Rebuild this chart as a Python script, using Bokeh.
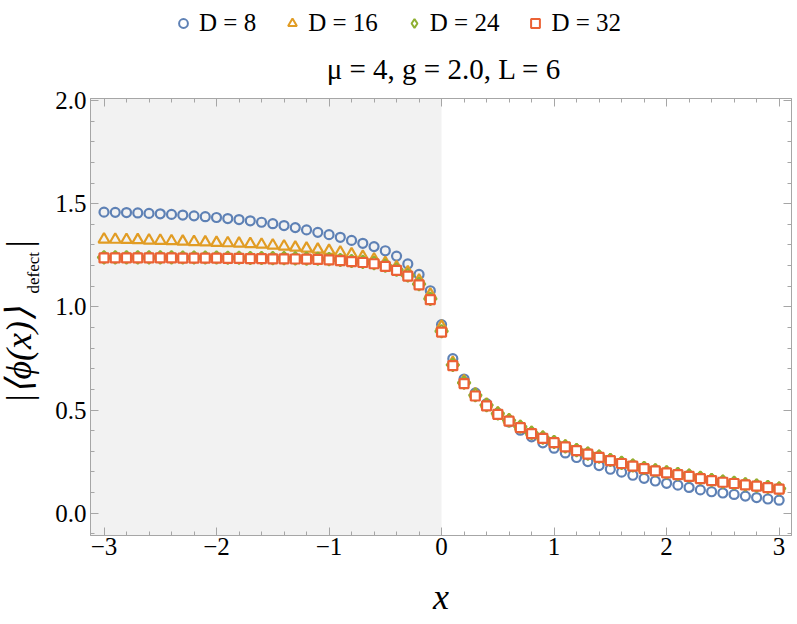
import numpy as np
from bokeh.plotting import figure
from bokeh.layouts import column
from bokeh.models import (Range1d, LinearAxis, Legend, LegendItem, Title, Label,
                          BoxAnnotation, SingleIntervalTicker, ColumnDataSource,
                          CustomLabelingPolicy)
from bokeh.embed import file_html
from bokeh.resources import INLINE

# ---------------- data ----------------
x_vals = [-3.0, -2.9, -2.8, -2.7, -2.6, -2.5, -2.4, -2.3, -2.2, -2.1,
          -2.0, -1.9, -1.8, -1.7, -1.6, -1.5, -1.4, -1.3, -1.2, -1.1,
          -1.0, -0.9, -0.8, -0.7, -0.6, -0.5, -0.4, -0.3, -0.2, -0.1,
          0.0, 0.1, 0.2, 0.3, 0.4, 0.5, 0.6, 0.7, 0.8, 0.9,
          1.0, 1.1, 1.2, 1.3, 1.4, 1.5, 1.6, 1.7, 1.8, 1.9,
          2.0, 2.1, 2.2, 2.3, 2.4, 2.5, 2.6, 2.7, 2.8, 2.9, 3.0]

d8 = [1.459, 1.458, 1.457, 1.455, 1.453, 1.451, 1.448, 1.445, 1.441, 1.437,
      1.433, 1.428, 1.423, 1.417, 1.410, 1.403, 1.394, 1.384, 1.373, 1.361,
      1.350, 1.337, 1.322, 1.308, 1.292, 1.272, 1.246, 1.208, 1.157, 1.078,
      0.914,
      0.749, 0.650, 0.583, 0.531, 0.483, 0.442, 0.402, 0.370, 0.341, 0.315,
      0.292, 0.270, 0.250, 0.231, 0.213, 0.199, 0.184, 0.169, 0.156, 0.145,
      0.136, 0.125, 0.113, 0.104, 0.098, 0.091, 0.083, 0.076, 0.069, 0.063]

d16 = [1.327, 1.326, 1.325, 1.324, 1.322, 1.321, 1.319, 1.317, 1.315, 1.313,
       1.311, 1.309, 1.307, 1.305, 1.302, 1.298, 1.293, 1.288, 1.283, 1.278,
       1.272, 1.264, 1.255, 1.243, 1.230, 1.213, 1.193, 1.168, 1.128, 1.060,
       0.905,
       0.730, 0.640, 0.577, 0.527, 0.485, 0.452, 0.420, 0.391, 0.367, 0.346,
       0.324, 0.306, 0.289, 0.274, 0.258, 0.244, 0.231, 0.219, 0.208, 0.198,
       0.190, 0.182, 0.171, 0.161, 0.153, 0.147, 0.140, 0.134, 0.127, 0.120]

d24 = [1.240, 1.240, 1.240, 1.240, 1.240, 1.240, 1.240, 1.239, 1.239, 1.239,
       1.239, 1.238, 1.238, 1.237, 1.237, 1.236, 1.236, 1.235, 1.234, 1.233,
       1.231, 1.227, 1.222, 1.218, 1.212, 1.199, 1.180, 1.152, 1.110, 1.039,
       0.882,
       0.719, 0.632, 0.572, 0.524, 0.483, 0.450, 0.419, 0.389, 0.366, 0.345,
       0.324, 0.306, 0.289, 0.274, 0.258, 0.244, 0.231, 0.219, 0.208, 0.198,
       0.190, 0.182, 0.171, 0.161, 0.153, 0.147, 0.140, 0.134, 0.127, 0.120]

d32 = [1.237, 1.237, 1.237, 1.237, 1.237, 1.237, 1.237, 1.236, 1.236, 1.236,
       1.236, 1.235, 1.235, 1.234, 1.234, 1.233, 1.233, 1.232, 1.231, 1.230,
       1.228, 1.224, 1.219, 1.215, 1.209, 1.196, 1.177, 1.149, 1.107, 1.035,
       0.878,
       0.715, 0.628, 0.568, 0.520, 0.479, 0.446, 0.415, 0.386, 0.363, 0.342,
       0.321, 0.303, 0.286, 0.271, 0.255, 0.241, 0.228, 0.216, 0.205, 0.195,
       0.187, 0.179, 0.168, 0.158, 0.150, 0.144, 0.137, 0.131, 0.124, 0.117]

series_labels = ["D = 8", "D = 16", "D = 24", "D = 32"]
series_cols = ["d8", "d16", "d24", "d32"]
defect_boundary = 0.0
title_text = "\u03bc = 4, g = 2.0, L = 6"

# ---------------- styling ----------------
FONT = "Liberation Serif"
AX = "#a6a6a6"
colors = ["#5E81B5", "#E19C24", "#8FB032", "#EB6235"]
markers = [dict(marker="circle", size=9, line_width=2.2, fill_color=None),
           dict(marker="triangle", size=11, line_width=2.2, fill_color=None),
           dict(marker="square", angle=np.pi / 4, size=9, line_width=2.0, fill_color=None),
           dict(marker="square", size=9, line_width=2.2, fill_color="white")]
legend_markers = [dict(marker="circle", line_width=2.0, fill_color=None),
                  dict(marker="triangle", line_width=2.0, fill_color=None),
                  dict(marker="diamond", line_width=2.0, fill_color=None),
                  dict(marker="square", line_width=2.0, fill_color=None)]

W, H_TOP, H_ALL = 797, 85, 624
FRAME_L, FRAME_R = 90, 794

src = ColumnDataSource(dict(x=x_vals, d8=d8, d16=d16, d24=d24, d32=d32))

# ---------------- header figure: legend + title ----------------
top = figure(width=W, height=H_TOP, output_backend="svg", toolbar_location=None,
             title=None, x_range=Range1d(0, FRAME_R - FRAME_L),
             y_range=Range1d(0, H_TOP), min_border=0,
             x_axis_location=None, y_axis_location=None)
top.outline_line_color = None
top.grid.visible = False
leg_r = []
for col, c, m in zip(series_cols, colors, legend_markers):
    r = top.scatter("x", col, source=src, line_color=c, **m)
    r.visible = False
    leg_r.append(r)
legend = Legend(items=[LegendItem(label=lab, renderers=[r])
                       for lab, r in zip(series_labels, leg_r)],
                orientation="horizontal", location=(172 - FRAME_L, H_TOP - 37),
                label_text_font=FONT, label_text_font_size="25px",
                label_text_color="black",
                glyph_width=22, glyph_height=22, spacing=25, label_standoff=5,
                padding=0, margin=0, border_line_color=None,
                background_fill_alpha=0, inactive_fill_alpha=0)
top.add_layout(legend, "center")
top.add_layout(Label(x=445 - FRAME_L, y=H_TOP - 68, text=title_text,
                     text_align="center", text_baseline="middle",
                     text_font=FONT, text_font_size="29px", text_color="black"))

# ---------------- main figure ----------------
x_lo, x_hi = -3.12, 3.11
y_lo, y_hi = -0.108, 2.0097

p = figure(width=W, height=H_ALL - H_TOP, output_backend="svg",
           toolbar_location=None, title=None,
           x_range=Range1d(x_lo, x_hi), y_range=Range1d(y_lo, y_hi),
           min_border_left=FRAME_L, min_border_right=W - FRAME_R,
           min_border_top=98 - H_TOP, min_border_bottom=89,
           x_axis_location=None, y_axis_location=None)
p.outline_line_color = AX
p.grid.visible = False
p.background_fill_color = "white"
p.border_fill_color = "white"

p.add_layout(BoxAnnotation(right=defect_boundary, fill_color="#f2f2f2",
                           fill_alpha=1.0, line_color=None, level="underlay"))

no_labels = CustomLabelingPolicy(code="""
for (const i of Array.from(indices)) indices.unset(i)
return indices
""")


def make_axis(ticker, labels=True):
    ax = LinearAxis(ticker=ticker)
    ax.axis_line_color = AX
    ax.major_tick_line_color = AX
    ax.minor_tick_line_color = AX
    ax.major_tick_in = 8
    ax.major_tick_out = 0
    ax.minor_tick_in = 4
    ax.minor_tick_out = 0
    ax.major_label_text_font = FONT
    ax.major_label_text_color = "black"
    if labels:
        ax.major_label_text_font_size = "25px"
        ax.major_label_standoff = 4
    else:
        ax.major_label_text_font_size = "2px"
        ax.major_label_standoff = 0
        ax.major_label_policy = no_labels
    return ax


xb = make_axis(SingleIntervalTicker(interval=1, num_minor_ticks=5))
xb.major_label_overrides = {-3: "\u22123", -2: "\u22122", -1: "\u22121",
                            0: "0", 1: "1", 2: "2", 3: "3"}
xb.major_label_standoff = 2
xb.axis_label = "x"
xb.axis_label_text_font = FONT
xb.axis_label_text_font_style = "italic"
xb.axis_label_text_font_size = "36px"
xb.axis_label_standoff = 19
xb.axis_label_text_color = "black"
p.add_layout(xb, "below")

yl = make_axis(SingleIntervalTicker(interval=0.5, num_minor_ticks=5))
yl.major_label_overrides = {0: "0.0", 0.5: "0.5", 1: "1.0", 1.5: "1.5", 2: "2.0"}
p.add_layout(yl, "left")

p.add_layout(make_axis(SingleIntervalTicker(interval=1, num_minor_ticks=5), False), "above")
p.add_layout(make_axis(SingleIntervalTicker(interval=0.5, num_minor_ticks=5), False), "right")

# y axis label: subscript and main part as rotated titles in the left panel
t_sub = Title(text="defect", align="left", offset=242, vertical_align="bottom",
              text_font=FONT, text_font_size="17px", text_font_style="normal",
              text_color="black", standoff=20)
p.add_layout(t_sub, "left")
t_main = Title(text="|\u27e8\u03d5(x)\u27e9\u2003\u2009\u2009\u2009|",
               align="left", offset=132, vertical_align="bottom", text_font=FONT,
               text_font_size="36px", text_font_style="italic", text_color="black")
try:
    t_main.standoff = -55
except Exception:
    t_main.standoff = 0
p.add_layout(t_main, "left")

for col, c, m in zip(series_cols, colors, markers):
    p.scatter("x", col, source=src, line_color=c, **m)

layout = column(top, p, spacing=0)
open("out.html", "w").write(file_html(layout, INLINE))
